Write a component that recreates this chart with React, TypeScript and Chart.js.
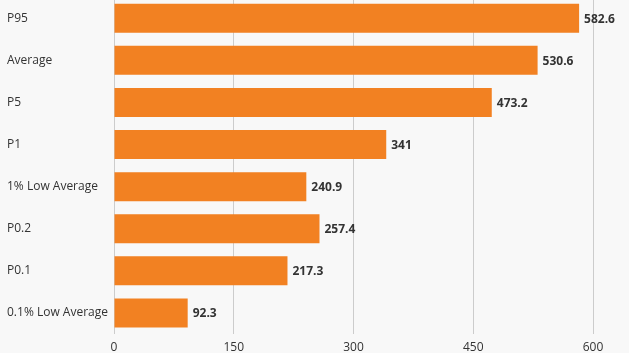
import React, { useEffect, useRef } from "react";
import { Chart, registerables } from "chart.js";

Chart.register(...registerables);

const categories = ["P95", "Average", "P5", "P1", "1% Low Average", "P0.2", "P0.1", "0.1% Low Average"];
const values = [582.6, 530.6, 473.2, 341, 240.9, 257.4, 217.3, 92.3];
const xTicks = [0, 150, 300, 450, 600];

const valueLabels = {
  id: "valueLabels",
  afterDatasetsDraw(chart: any) {
    const ctx = chart.ctx;
    const meta = chart.getDatasetMeta(0);
    ctx.save();
    ctx.font = "bold 12px 'Open Sans'";
    ctx.fillStyle = "#333333";
    ctx.textAlign = "left";
    ctx.textBaseline = "middle";
    meta.data.forEach((bar: any, i: number) => {
      ctx.fillText(String(values[i]), bar.x + 5, bar.y + 1);
    });
    ctx.restore();
  },
};

export default function App() {
  const ref = useRef<HTMLCanvasElement>(null);
  useEffect(() => {
    document.body.style.margin = "0";
    document.body.style.overflow = "hidden";
    document.body.style.background = "#f8f8f8";
    const chart = new Chart(ref.current!, {
      type: "bar",
      data: {
        labels: categories,
        datasets: [
          {
            data: values,
            backgroundColor: "#f28122",
            borderWidth: 0,
            barPercentage: 1,
            categoryPercentage: 0.69,
          },
        ],
      },
      options: {
        indexAxis: "y",
        animation: false,
        responsive: false,
        maintainAspectRatio: false,
        layout: { padding: { top: 0, right: 36, bottom: 0, left: 7 } },
        plugins: { legend: { display: false }, tooltip: { enabled: false } },
        scales: {
          x: {
            min: 0,
            max: 600,
            afterBuildTicks: (axis: any) => {
              axis.ticks = xTicks.map((v) => ({ value: v }));
            },
            afterFit: (axis: any) => {
              axis.height = 20;
            },
            grid: { color: "#cccccc", drawTicks: false, lineWidth: 1 },
            border: { display: false },
            ticks: {
              color: "#333333",
              padding: 6,
              font: { family: "'Open Sans'", size: 12 },
            },
          },
          y: {
            grid: { display: false, drawTicks: false },
            border: { display: false },
            afterFit: (axis: any) => {
              axis.width = 107;
            },
            ticks: {
              crossAlign: "far",
              color: "#333333",
              padding: 0,
              font: { family: "'Open Sans'", size: 12 },
            },
          },
        },
      },
      plugins: [valueLabels],
    });
    return () => chart.destroy();
  }, []);
  return (
    <div style={{ width: 629, height: 353, overflow: "hidden", background: "#f8f8f8", position: "relative" }}>
      <canvas
        ref={ref}
        width={629}
        height={364}
        style={{ display: "block", position: "absolute", left: 0, top: -10 }}
      />
    </div>
  );
}
